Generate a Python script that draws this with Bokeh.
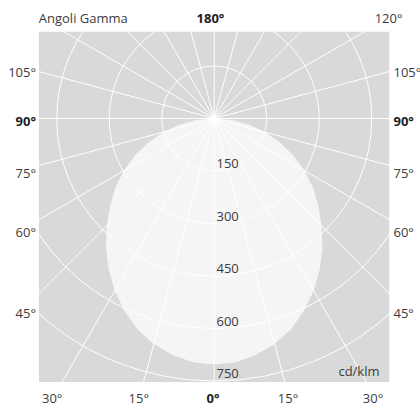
import math
from bokeh.plotting import figure
from bokeh.models import Range1d
from bokeh.embed import file_html
from bokeh.resources import INLINE
from bokeh.core.properties import value

# ---------------- data ----------------
gamma_deg = [0, 5, 10, 15, 20, 25, 30, 35, 40, 45, 50, 55, 60, 65, 70, 75, 80, 85, 90]
intensity = [703, 699, 686, 667, 641, 607, 568, 526, 481, 434, 388, 345, 298, 250, 200, 150, 100, 50, 0]
ring_values = [150, 300, 450, 600, 750]
ring_labels = ["150", "300", "450", "600", "750"]
spoke_angles = list(range(0, 360, 15))
side_labels = ["105°", "90°", "75°", "60°", "45°"]
bottom_labels = ["30°", "15°", "0°", "15°", "30°"]
top_center_label = "180°"
top_right_label = "120°"
title_label = "Angoli Gamma"
unit_label = "cd/klm"

# ---------------- layout ----------------
W, H = 420, 408
ORG = 0             # page px of the canvas' top-left corner
S = 0.35            # px per cd/klm
CX, CY = 213.7, 118.0   # page px of the pole
FONT = value("Open Sans")
FS = "13px"
TXT = "#3c3c3c"
BOLD = "#1e1e1e"
BG = "#d9d9d9"
FILL = "#f5f5f5"


def dx(X):
    return (X - CX) / S


def dy(Y):
    return (CY - Y) / S


p = figure(width=W, height=H,
           x_range=Range1d(dx(ORG), dx(ORG + W)), y_range=Range1d(dy(ORG + H), dy(ORG)),
           output_backend="svg", toolbar_location=None, min_border=0,
           x_axis_type=None, y_axis_type=None,
           background_fill_color="white", border_fill_color="white",
           outline_line_color=None)
p.grid.visible = False

# plot box
bl, br, bt, bb = dx(38.3), dx(389.0), dy(31.0), dy(381.7)
p.quad(left=[bl], right=[br], bottom=[bb], top=[bt], fill_color=BG, line_color=None)

# light distribution curve (mirrored)
xs, ys = [], []
for g, i in zip(reversed(gamma_deg), reversed(intensity)):
    xs.append(-i * math.sin(math.radians(g)))
    ys.append(-i * math.cos(math.radians(g)))
for g, i in zip(gamma_deg[1:], intensity[1:]):
    xs.append(i * math.sin(math.radians(g)))
    ys.append(-i * math.cos(math.radians(g)))
p.patch(xs, ys, fill_color=FILL, line_color=None)

# grid
p.circle(x=[0] * len(ring_values), y=[0] * len(ring_values), radius=ring_values,
         fill_color=None, line_color="white", line_width=1)
L = 3000
p.segment(x0=[0] * len(spoke_angles), y0=[0] * len(spoke_angles),
          x1=[L * math.sin(math.radians(a)) for a in spoke_angles],
          y1=[-L * math.cos(math.radians(a)) for a in spoke_angles],
          line_color="white", line_width=1)

# white masks outside the box
big = 5000
p.quad(left=[-big, br, bl, bl], right=[bl, big, br, br],
       bottom=[-big, -big, bt, -big], top=[big, big, big, bb],
       fill_color="white", line_color=None)

# ring labels
p.text(x=[dx(216)] * len(ring_values),
       y=[dy(CY + r * S - 7.2) for r in ring_values],
       text=ring_labels, text_font=FONT, text_font_size=FS, text_color=TXT,
       text_align="left", text_baseline="middle")

# side labels
side_y = [71.0, 120.0, 172.5, 231.3, 312.0]
for lab, yy in zip(side_labels, side_y):
    bold = lab == "90°"
    for xx, al in ((35.5, "right"), (393.0, "left")):
        p.text(x=[dx(xx)], y=[dy(yy)], text=[lab], text_font=FONT, text_font_size=FS,
               text_color=BOLD if bold else TXT, text_font_style="bold" if bold else "normal",
               text_align=al, text_baseline="middle")

# bottom labels
bx = [51.7, 138.3, 212.5, 287.5, 372.5]
for lab, xx in zip(bottom_labels, bx):
    bold = lab == "0°"
    p.text(x=[dx(xx)], y=[dy(397.5)], text=[lab], text_font=FONT, text_font_size=FS,
           text_color=BOLD if bold else TXT, text_font_style="bold" if bold else "normal",
           text_align="center", text_baseline="middle")

# top labels
p.text(x=[dx(38.3)], y=[dy(17.5)], text=[title_label], text_font=FONT, text_font_size=FS,
       text_color=TXT, text_align="left", text_baseline="middle")
p.text(x=[dx(210)], y=[dy(17.5)], text=[top_center_label], text_font=FONT, text_font_size=FS,
       text_color=BOLD, text_font_style="bold", text_align="center", text_baseline="middle")
p.text(x=[dx(402)], y=[dy(17.5)], text=[top_right_label], text_font=FONT, text_font_size=FS,
       text_color=TXT, text_align="right", text_baseline="middle")

# unit
p.text(x=[dx(379)], y=[dy(370.5)], text=[unit_label], text_font=FONT, text_font_size=FS,
       text_color=TXT, text_align="right", text_baseline="middle")

open("out.html", "w").write(file_html(p, INLINE))
